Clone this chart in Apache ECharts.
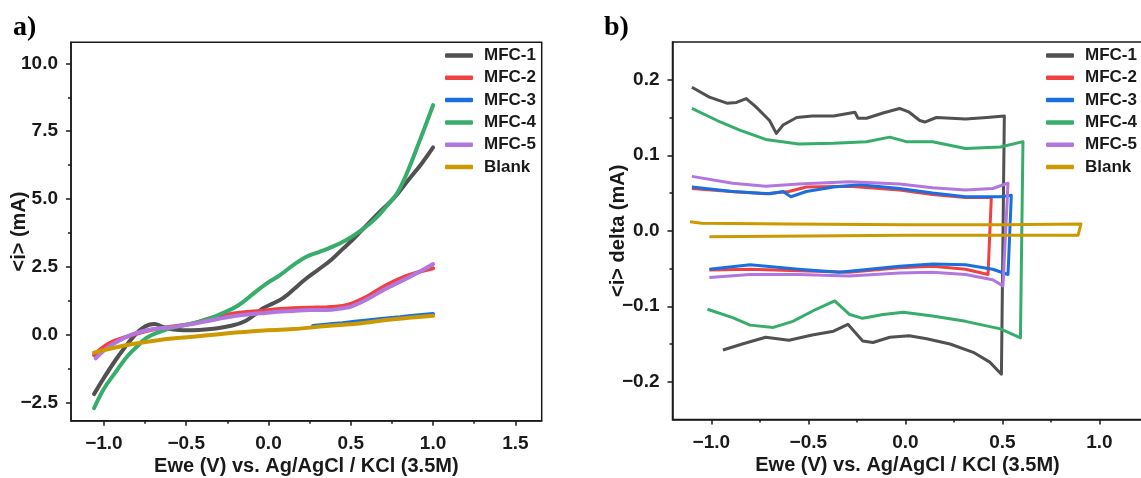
<!DOCTYPE html>
<html>
<head>
<meta charset="utf-8">
<script src="https://cdn.jsdelivr.net/npm/echarts@6/dist/echarts.min.js"></script>
<style>
  html, body { margin: 0; background: #fff; }
  #chart { width: 1141px; height: 478px; }
</style>
</head>
<body>
<div id="chart"></div>
<script>
const seriesNames = ['MFC-1', 'MFC-2', 'MFC-3', 'MFC-4', 'MFC-5', 'Blank']
const colors = ['#515151', '#F14040', '#1A6FDF', '#37AD6B', '#B177DE', '#CC9900']

// a) linear sweep, [E (V), i (mA)]
const lsvMfc1 = [[-1.06, -2.2], [-1.0, -1.6], [-0.93, -0.95], [-0.87, -0.45], [-0.82, -0.08], [-0.77, 0.22], [-0.72, 0.37], [-0.69, 0.39], [-0.65, 0.3], [-0.6, 0.2], [-0.52, 0.16], [-0.42, 0.17], [-0.32, 0.22], [-0.22, 0.33], [-0.14, 0.5], [-0.08, 0.75], [-0.03, 0.98], [0.03, 1.15], [0.09, 1.35], [0.15, 1.65], [0.22, 2.02], [0.3, 2.38], [0.38, 2.75], [0.45, 3.15], [0.52, 3.55], [0.6, 4.05], [0.68, 4.55], [0.76, 5.02], [0.85, 5.7], [0.93, 6.3], [1.0, 6.9]]
const lsvMfc2 = [[-1.06, -0.76], [-0.97, -0.33], [-0.86, -0.08], [-0.76, 0.1], [-0.66, 0.23], [-0.56, 0.31], [-0.46, 0.41], [-0.36, 0.59], [-0.26, 0.72], [-0.16, 0.81], [-0.05, 0.87], [0.05, 0.93], [0.15, 0.97], [0.25, 0.99], [0.35, 1.0], [0.45, 1.05], [0.51, 1.15], [0.6, 1.4], [0.68, 1.7], [0.76, 1.95], [0.84, 2.16], [0.92, 2.32], [1.0, 2.44]]
const lsvMfc3 = [[0.27, 0.31], [0.45, 0.42], [0.6, 0.52], [0.8, 0.64], [1.0, 0.76]]
const lsvMfc4 = [[-1.06, -2.72], [-1.0, -2.0], [-0.93, -1.4], [-0.86, -0.82], [-0.8, -0.45], [-0.74, -0.12], [-0.66, 0.1], [-0.56, 0.29], [-0.46, 0.41], [-0.36, 0.59], [-0.26, 0.84], [-0.18, 1.09], [-0.09, 1.52], [-0.01, 1.89], [0.07, 2.19], [0.15, 2.56], [0.23, 2.87], [0.31, 3.05], [0.39, 3.24], [0.47, 3.48], [0.55, 3.79], [0.64, 4.22], [0.72, 4.75], [0.78, 5.2], [0.84, 5.94], [0.92, 7.17], [1.0, 8.46]]
const lsvMfc5 = [[-1.05, -0.88], [-0.97, -0.45], [-0.86, -0.08], [-0.76, 0.13], [-0.66, 0.23], [-0.56, 0.29], [-0.46, 0.39], [-0.36, 0.51], [-0.26, 0.63], [-0.16, 0.72], [-0.05, 0.78], [0.05, 0.84], [0.15, 0.87], [0.25, 0.9], [0.35, 0.9], [0.45, 0.97], [0.51, 1.05], [0.6, 1.3], [0.68, 1.58], [0.76, 1.83], [0.84, 2.07], [0.92, 2.32], [1.0, 2.6]]
const lsvBlank = [[-1.06, -0.67], [-0.86, -0.39], [-0.66, -0.2], [-0.46, -0.08], [-0.26, 0.04], [-0.05, 0.14], [0.15, 0.2], [0.35, 0.31], [0.55, 0.41], [0.76, 0.56], [1.0, 0.69]]

// b) cyclic voltammetry, forward branch then reverse branch
const cvMfc1 = [[-1.1, 0.19], [-1.01, 0.177], [-0.92, 0.169], [-0.87, 0.17], [-0.82, 0.175], [-0.77, 0.164], [-0.7, 0.146], [-0.665, 0.129], [-0.63, 0.14], [-0.56, 0.15], [-0.48, 0.152], [-0.37, 0.152], [-0.26, 0.157], [-0.244, 0.149], [-0.2, 0.149], [-0.115, 0.156], [-0.03, 0.162], [0.02, 0.157], [0.074, 0.146], [0.1, 0.144], [0.16, 0.15], [0.31, 0.148], [0.42, 0.15], [0.51, 0.152],
  [0.495, -0.19], [0.435, -0.174], [0.35, -0.161], [0.23, -0.15], [0.11, -0.143], [0.02, -0.139], [-0.08, -0.141], [-0.167, -0.148], [-0.22, -0.146], [-0.296, -0.124], [-0.37, -0.133], [-0.48, -0.138], [-0.6, -0.145], [-0.72, -0.141], [-0.84, -0.15], [-0.94, -0.158]]
const cvMfc2 = [[-1.1, 0.056], [-0.9, 0.052], [-0.72, 0.049], [-0.6, 0.052], [-0.51, 0.058], [-0.29, 0.059], [-0.03, 0.054], [0.14, 0.048], [0.31, 0.044], [0.443, 0.044],
  [0.426, -0.058], [0.31, -0.051], [0.14, -0.047], [-0.03, -0.049], [-0.29, -0.055], [-0.55, -0.053], [-0.8, -0.051], [-1.01, -0.052]]
const cvMfc3 = [[-1.1, 0.058], [-0.89, 0.052], [-0.7, 0.049], [-0.63, 0.052], [-0.59, 0.045], [-0.51, 0.052], [-0.37, 0.058], [-0.235, 0.061], [-0.03, 0.056], [0.14, 0.05], [0.31, 0.045], [0.49, 0.045], [0.546, 0.047],
  [0.529, -0.058], [0.45, -0.051], [0.31, -0.045], [0.14, -0.044], [-0.03, -0.047], [-0.34, -0.055], [-0.55, -0.051], [-0.8, -0.045], [-1.01, -0.051]]
const cvMfc4 = [[-1.1, 0.162], [-0.97, 0.146], [-0.85, 0.133], [-0.72, 0.121], [-0.55, 0.115], [-0.37, 0.116], [-0.2, 0.118], [-0.08, 0.124], [0.005, 0.118], [0.14, 0.118], [0.31, 0.109], [0.49, 0.111], [0.606, 0.118],
  [0.593, -0.142], [0.49, -0.13], [0.31, -0.12], [0.14, -0.113], [-0.01, -0.108], [-0.115, -0.111], [-0.22, -0.116], [-0.287, -0.111], [-0.364, -0.093], [-0.46, -0.104], [-0.58, -0.12], [-0.68, -0.128], [-0.8, -0.125], [-0.89, -0.115], [-1.02, -0.104]]
const cvMfc5 = [[-1.1, 0.072], [-0.89, 0.063], [-0.72, 0.059], [-0.55, 0.062], [-0.29, 0.065], [-0.03, 0.062], [0.14, 0.057], [0.31, 0.054], [0.45, 0.056], [0.529, 0.063],
  [0.503, -0.073], [0.45, -0.065], [0.31, -0.058], [0.14, -0.055], [-0.03, -0.056], [-0.29, -0.06], [-0.55, -0.058], [-0.8, -0.058], [-1.01, -0.062]]
const cvBlank = [[-1.11, 0.012], [-1.05, 0.01], [-0.6, 0.009], [0.0, 0.008], [0.5, 0.008], [0.905, 0.009],
  [0.89, -0.006], [0.5, -0.006], [0.0, -0.006], [-0.5, -0.007], [-1.01, -0.008]]

const aXTicks = [-1, -0.5, 0, 0.5, 1, 1.5]
const aXMinor = [-0.75, -0.25, 0.25, 0.75, 1.25]
const aYTicks = [-2.5, 0, 2.5, 5, 7.5, 10]
const aYMinor = [-1.25, 1.25, 3.75, 6.25, 8.75]
const bXTicks = [-1, -0.5, 0, 0.5, 1]
const bXMinor = [-0.75, -0.25, 0.25, 0.75]
const bYTicks = [-0.2, -0.1, 0, 0.1, 0.2]
const bYMinor = [-0.15, -0.05, 0.05, 0.15]

const xTitle = 'Ewe (V) vs. Ag/AgCl / KCl (3.5M)'
const font = "'Liberation Sans', Arial, sans-serif"
const ink = '#1a1a1a'

const fmt = v => v.toFixed(1).replace('-', '\u2212')

const mainAxis = (dim, grid, min, max, ticks, name, gap) => ({
    type: 'value',
    gridIndex: grid,
    position: dim === 'x' ? 'bottom' : 'left',
    min: min,
    max: max,
    name: name,
    nameLocation: 'middle',
    nameGap: gap,
    nameMoveOverlap: false,
    nameTextStyle: { fontFamily: font, fontWeight: 'bold', fontSize: 20, color: ink },
    axisLine: { show: true, onZero: false, lineStyle: { color: ink, width: 1.5 } },
    axisTick: { show: true, customValues: ticks, length: 5, lineStyle: { color: ink, width: 1.5 } },
    axisLabel: {
        customValues: ticks,
        formatter: fmt,
        margin: dim === 'x' ? 14 : 13,
        fontFamily: font, fontWeight: 'bold', fontSize: 19, color: ink
    },
    splitLine: { show: false }
})

const minorAxis = (dim, grid, min, max, ticks) => ({
    type: 'value',
    gridIndex: grid,
    position: dim === 'x' ? 'bottom' : 'left',
    min: min,
    max: max,
    axisLine: { show: false, onZero: false },
    axisTick: { show: true, customValues: ticks, length: 3, lineStyle: { color: ink, width: 1.5 } },
    axisLabel: { show: false },
    splitLine: { show: false }
})

const lsvData = [lsvMfc1, lsvMfc2, lsvMfc3, lsvMfc4, lsvMfc5, lsvBlank]
const cvData = [cvMfc1, cvMfc2, cvMfc3, cvMfc4, cvMfc5, cvBlank]

const series = []
lsvData.forEach((d, i) => {
    series.push({
        name: seriesNames[i], type: 'line', xAxisIndex: 0, yAxisIndex: 0,
        data: d, smooth: 0.4, showSymbol: false, symbol: 'none',
        lineStyle: { color: colors[i], width: 4, cap: 'round' },
        itemStyle: { color: colors[i] }
    })
})
cvData.forEach((d, i) => {
    series.push({
        name: seriesNames[i], type: 'line', xAxisIndex: 2, yAxisIndex: 2,
        data: d, showSymbol: false, symbol: 'none',
        lineStyle: { color: colors[i], width: 3, join: 'round' },
        itemStyle: { color: colors[i] }
    })
})

const legendBase = {
    orient: 'vertical',
    top: 47,
    padding: 0,
    data: seriesNames,
    icon: 'roundRect',
    itemWidth: 28,
    itemHeight: 4.5,
    itemGap: 5.3,
    selectedMode: false,
    textStyle: { fontFamily: font, fontWeight: 'bold', fontSize: 17, lineHeight: 17, color: ink, padding: [0, 0, 0, 6] }
}

const chart = echarts.init(document.getElementById('chart'), null, { renderer: 'canvas' })
chart.setOption({
    animation: false,
    backgroundColor: '#fff',
    title: [
        { text: 'a)', left: 8, top: 9, textStyle: { fontFamily: "'Liberation Serif', 'Times New Roman', serif", fontWeight: 'bold', fontSize: 28, color: '#000' } },
        { text: 'b)', left: 599, top: 9, textStyle: { fontFamily: "'Liberation Serif', 'Times New Roman', serif", fontWeight: 'bold', fontSize: 28, color: '#000' } }
    ],
    legend: [
        Object.assign({}, legendBase, { left: 445 }),
        Object.assign({}, legendBase, { left: 1046 })
    ],
    grid: [
        { left: 71, top: 42.3, width: 470.7, height: 378.4, outerBoundsMode: 'none', show: true, borderColor: ink, borderWidth: 1.5, backgroundColor: 'transparent' },
        { left: 672.5, top: 42, width: 470, height: 377.5, outerBoundsMode: 'none', show: true, borderColor: ink, borderWidth: 1.5, backgroundColor: 'transparent' }
    ],
    xAxis: [
        mainAxis('x', 0, -1.2, 1.66, aXTicks, xTitle, 36),
        minorAxis('x', 0, -1.2, 1.66, aXMinor),
        mainAxis('x', 1, -1.2, 1.222, bXTicks, xTitle, 36),
        minorAxis('x', 1, -1.2, 1.222, bXMinor)
    ],
    yAxis: [
        mainAxis('y', 0, -3.18, 10.78, aYTicks, '<i> (mA)', 42),
        minorAxis('y', 0, -3.18, 10.78, aYMinor),
        mainAxis('y', 1, -0.25, 0.25, bYTicks, '<i> delta (mA)', 44),
        minorAxis('y', 1, -0.25, 0.25, bYMinor)
    ],
    series: series
})
</script>
</body>
</html>
